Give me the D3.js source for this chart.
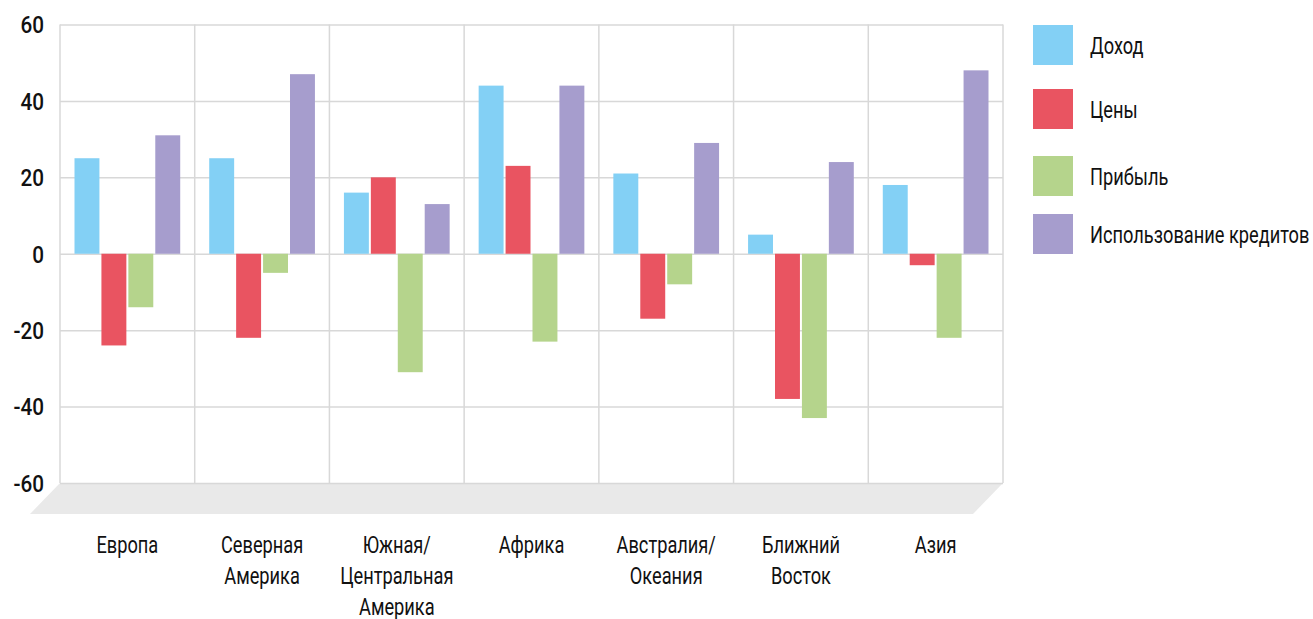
<!DOCTYPE html>
<html>
<head>
<meta charset="utf-8">
<script src="https://cdn.jsdelivr.net/npm/d3@7"></script>
<style>
  body { margin: 0; background: #fff; }
  svg { display: block; }
</style>
</head>
<body>
<svg id="chart" width="1313" height="619"></svg>
<script>
// Regions and series
const categories = [
  ["Европа"],
  ["Северная", "Америка"],
  ["Южная/", "Центральная", "Америка"],
  ["Африка"],
  ["Австралия/", "Океания"],
  ["Ближний", "Восток"],
  ["Азия"]
];
const seriesNames = ["Доход", "Цены", "Прибыль", "Использование кредитов"];
const seriesColors = ["#83d0f5", "#e95461", "#b5d48c", "#a69dcd"];

const income = [25, 25, 16, 44, 21, 5, 18];
const prices = [-24, -22, 20, 23, -17, -38, -3];
const profit = [-14, -5, -31, -23, -8, -43, -22];
const credit = [31, 47, 13, 44, 29, 24, 48];
const yTicks = [60, 40, 20, 0, -20, -40, -60];

const series = [income, prices, profit, credit];

const svg = d3.select("#chart");
const plotLeft = 60, plotRight = 1003, plotTop = 24.5, plotBottom = 483;
const font = "Roboto, 'DejaVu Sans', sans-serif";
const narrow = 0.76;   // horizontal squeeze for the condensed lettering

const x0 = d3.scaleBand().domain(d3.range(categories.length)).range([plotLeft, plotRight]).padding(0);
const x1 = d3.scaleBand().domain(d3.range(series.length))
  .range([14.5, x0.bandwidth() - 14.5]).paddingInner(0.074).paddingOuter(0);
const y = d3.scaleLinear().domain([-60, 60]).range([plotBottom, plotTop]);

// Floor under the plot
const floorDepth = 31, floorShift = 30;
svg.append("path")
  .attr("d", `M${plotLeft},${plotBottom} L${plotRight},${plotBottom} L${plotRight - floorShift},${plotBottom + floorDepth} L${plotLeft - floorShift},${plotBottom + floorDepth} Z`)
  .attr("fill", "#e9e9e9");

// Horizontal grid lines and value labels
const yAxis = d3.axisLeft(y).tickValues(yTicks).tickSize(-(plotRight - plotLeft)).tickFormat(d => d);
const gy = svg.append("g").attr("transform", `translate(${plotLeft},0)`).call(yAxis);
gy.select(".domain").remove();
gy.selectAll(".tick line").attr("stroke", "#d8d8d8").attr("stroke-width", 1.5);
const tickSqueeze = 0.9;
gy.selectAll(".tick text")
  .attr("x", -16 / tickSqueeze)
  .attr("dy", "0.36em")
  .attr("transform", `scale(${tickSqueeze},1)`)
  .attr("fill", "#111")
  .style("font-family", font)
  .style("font-size", "23px")
  .style("font-weight", "500");

// Vertical separators between regions
const seps = d3.range(categories.length + 1).map(i => i < categories.length ? x0(i) : plotRight);
svg.append("g").selectAll("line").data(seps).join("line")
  .attr("x1", d => d).attr("x2", d => d)
  .attr("y1", plotTop).attr("y2", plotBottom)
  .attr("stroke", "#d8d8d8").attr("stroke-width", 1.5);

// Bars
const groups = svg.append("g").selectAll("g").data(categories).join("g")
  .attr("transform", (d, i) => `translate(${x0(i)},0)`);
groups.selectAll("rect")
  .data((d, i) => series.map((s, k) => ({ k, v: s[i] })))
  .join("rect")
  .attr("x", d => x1(d.k))
  .attr("width", x1.bandwidth())
  .attr("y", d => y(Math.max(0, d.v)))
  .attr("height", d => Math.abs(y(d.v) - y(0)))
  .attr("fill", d => seriesColors[d.k]);

// Region labels
const labels = svg.append("g").selectAll("text").data(categories).join("text")
  .attr("text-anchor", "middle")
  .attr("fill", "#111")
  .style("font-family", font)
  .style("font-size", "24px")
  .attr("transform", (d, i) => `translate(${x0(i) + x0.bandwidth() / 2},553) scale(${narrow},1)`);
labels.selectAll("tspan").data(d => d).join("tspan")
  .attr("x", 0)
  .attr("dy", (d, i) => i === 0 ? 0 : 31)
  .text(d => d);

// Legend
const legendY = [25, 89, 156, 214];
const legend = svg.append("g").selectAll("g").data(seriesNames).join("g")
  .attr("transform", (d, i) => `translate(1033,${legendY[i]})`);
legend.append("rect").attr("width", 40).attr("height", 40).attr("fill", (d, i) => seriesColors[i]);
legend.append("text")
  .attr("transform", `translate(57,20) scale(${narrow},1)`)
  .attr("dy", "0.36em")
  .attr("fill", "#111")
  .style("font-family", font)
  .style("font-size", "24px")
  .text(d => d);
</script>
</body>
</html>
